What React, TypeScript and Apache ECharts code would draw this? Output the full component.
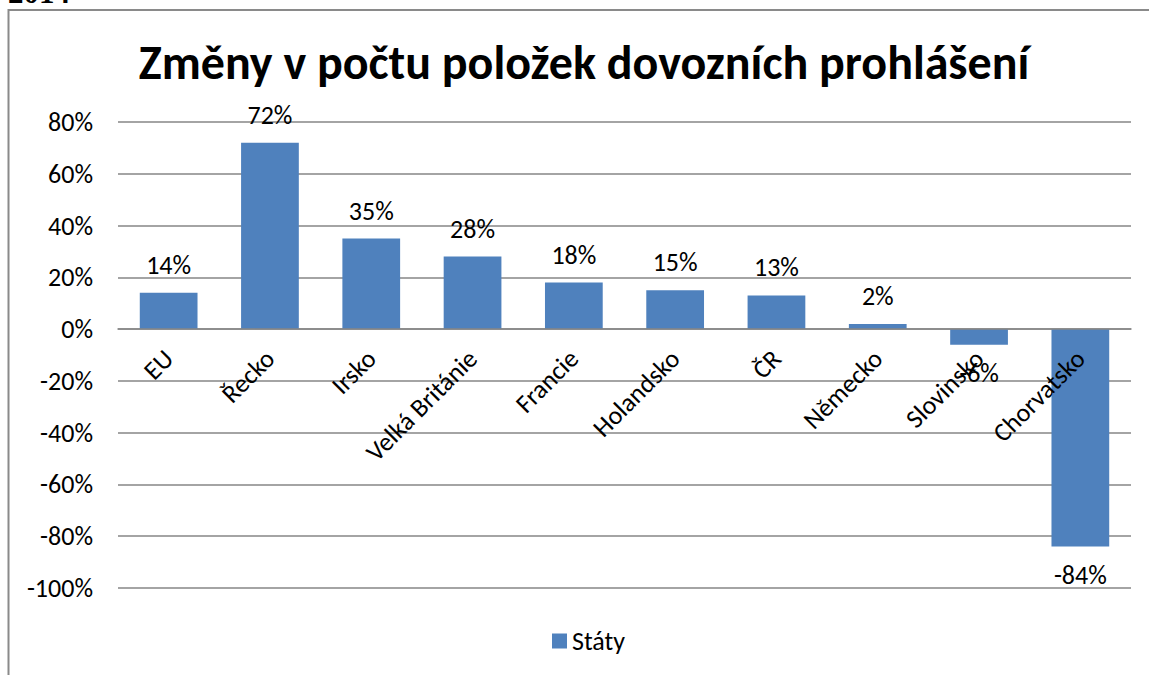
import React, { useEffect, useRef } from "react";
import * as echarts from "echarts";

const categories = ["EU", "Řecko", "Irsko", "Velká Británie", "Francie", "Holandsko", "ČR", "Německo", "Slovinsko", "Chorvatsko"];
const values = [14, 72, 35, 28, 18, 15, 13, 2, -6, -84];
const seriesName = "Státy";
const titleText = "Změny v počtu položek dovozních prohlášení";
const yMin = -100;
const yMax = 80;
const yStep = 20;

const FONT = "Carlito, Calibri, Lato, 'Noto Sans', sans-serif";

const GRID_TOP = 122;
const GRID_BOTTOM = 87;
const CHART_H = 675;

export default function App() {
  const ref = useRef<HTMLDivElement>(null);
  useEffect(() => {
    if (!ref.current) return;
    const chart = echarts.init(ref.current, undefined, { renderer: "svg" });
    const gridH = CHART_H - GRID_TOP - GRID_BOTTOM;
    // move the category axis up to the zero line
    const zeroOffset = -gridH * (0 - yMin) / (yMax - yMin);
    chart.setOption({
      animation: false,
      backgroundColor: "#ffffff",
      textStyle: { fontFamily: FONT },
      graphic: [
        {
          type: "rect",
          shape: { x: 8.5, y: 10, width: 1200, height: 700 },
          style: { fill: "none", stroke: "#8a8a8a", lineWidth: 2 },
          silent: true,
          z: -10,
        },
        {
          type: "text",
          x: 8,
          y: -8,
          style: {
            text: "2014",
            font: "bold 31px 'Liberation Serif', 'DejaVu Serif', serif",
            fill: "#000",
            verticalAlign: "middle",
          },
          silent: true,
        },
        {
          type: "text",
          x: 584,
          y: 62,
          style: {
            text: titleText,
            font: "bold 48px " + FONT,
            fill: "#000",
            align: "center",
            verticalAlign: "middle",
          },
          silent: true,
        },
      ],
      legend: {
        show: true,
        left: 547,
        top: 623,
        itemWidth: 15,
        itemHeight: 15,
        icon: "rect",
        textStyle: { fontSize: 26, color: "#000", fontFamily: FONT },
        data: [seriesName],
      },
      grid: {
        left: 118,
        right: 18,
        top: GRID_TOP,
        bottom: GRID_BOTTOM,
        containLabel: false,
        outerBoundsMode: "none",
      },
      xAxis: {
        type: "category",
        data: categories,
        offset: zeroOffset,
        axisLine: { show: true, onZero: false, lineStyle: { color: "#868686", width: 1.5 } },
        axisTick: { show: false },
        axisLabel: {
          rotate: 45,
          margin: 25,
          fontSize: 26,
          color: "#000",
          fontFamily: FONT,
          interval: 0,
        },
        z: 5,
      },
      yAxis: {
        type: "value",
        min: yMin,
        max: yMax,
        interval: yStep,
        axisLine: { show: false },
        axisTick: { show: false },
        axisLabel: {
          formatter: "{value}%",
          fontSize: 26,
          color: "#000",
          margin: 25,
          fontFamily: FONT,
        },
        splitLine: { show: true, lineStyle: { color: "#868686", width: 1.5 } },
      },
      series: [
        {
          name: seriesName,
          type: "bar",
          barWidth: "57%",
          itemStyle: { color: "#4f81bd" },
          data: values.map((v) => ({
            value: v,
            label: { position: v < 0 ? "bottom" : "top" },
          })),
          label: {
            show: true,
            formatter: "{c}%",
            fontSize: 26,
            color: "#000",
            distance: 15,
            fontFamily: FONT,
          },
          z: 3,
        },
      ],
    });
    return () => chart.dispose();
  }, []);
  return (
    <div
      ref={ref}
      style={{ position: "absolute", left: 0, top: 0, width: 1149, height: 675 }}
    />
  );
}
